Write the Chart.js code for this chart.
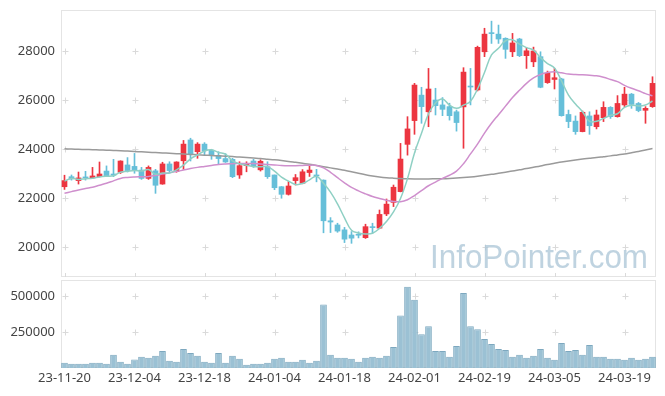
<!DOCTYPE html>
<html>
<head>
<meta charset="utf-8">
<script src="https://cdn.jsdelivr.net/npm/chart.js@4.4.1/dist/chart.umd.min.js"></script>
<style>
  body { margin: 0; background: #fff; }
  #wrap { position: relative; width: 665px; height: 396px; }
  #price { position: absolute; left: 0; top: 0; }
  #vol { position: absolute; left: 0; top: 279px; }
</style>
</head>
<body>
<div id="wrap">
  <canvas id="price" width="665" height="279"></canvas>
  <canvas id="vol" width="665" height="117"></canvas>
</div>
<script>
const dates = [
  '23-11-20','23-11-21','23-11-22','23-11-23','23-11-24','23-11-27','23-11-28','23-11-29','23-11-30','23-12-01',
  '23-12-04','23-12-05','23-12-06','23-12-07','23-12-08','23-12-11','23-12-12','23-12-13','23-12-14','23-12-15',
  '23-12-18','23-12-19','23-12-20','23-12-21','23-12-22','23-12-26','23-12-27','23-12-28','24-01-02','24-01-03',
  '24-01-04','24-01-05','24-01-08','24-01-09','24-01-10','24-01-11','24-01-12','24-01-15','24-01-16','24-01-17',
  '24-01-18','24-01-19','24-01-22','24-01-23','24-01-24','24-01-25','24-01-26','24-01-29','24-01-30','24-01-31',
  '24-02-01','24-02-02','24-02-05','24-02-06','24-02-07','24-02-08','24-02-13','24-02-14','24-02-15','24-02-16',
  '24-02-19','24-02-20','24-02-21','24-02-22','24-02-23','24-02-26','24-02-27','24-02-28','24-02-29','24-03-04',
  '24-03-05','24-03-06','24-03-07','24-03-08','24-03-11','24-03-12','24-03-13','24-03-14','24-03-15','24-03-18',
  '24-03-19','24-03-20','24-03-21','24-03-22','24-03-25'
];

const open = [
  22460,22870,22710,22860,22820,22870,23100,22980,23050,23350,
  23290,23140,22800,23110,22570,23390,23080,23520,24370,23890,
  24200,23950,23740,23610,23580,22940,23320,23510,23150,23280,
  22940,22460,22150,22710,22600,23040,22930,22730,21070,20900,
  20700,20490,20500,20380,20820,20770,21350,21820,22260,24190,
  25160,26200,25520,26000,25800,25730,25520,25720,26560,26410,
  27970,28740,28690,28520,27970,28490,27810,27560,27770,26710,
  26840,26860,25410,25140,24710,25350,24910,25280,25700,25320,
  25800,26240,25860,25580,25730
];
const high = [
  22930,22940,23060,23090,23250,23470,23310,23580,23520,23650,
  23820,23250,23310,23170,23460,23480,23480,24350,24440,24260,
  24260,23990,23890,23810,23620,23480,23480,23580,23560,23480,
  22940,22470,22670,22960,23160,23350,23170,22740,21200,20970,
  20800,20630,20620,20930,20970,21510,21960,22530,24230,25320,
  26680,26520,27290,26480,26100,25870,25590,27320,27290,28200,
  28930,29220,29060,28540,28720,28520,28140,28160,27970,27180,
  27290,26890,25590,25350,25550,25520,25590,25930,25730,26180,
  26520,26270,25900,25730,26950
];
const low = [
  22350,22730,22570,22730,22800,22860,22870,22870,23000,23060,
  23010,22760,22760,22190,22560,23070,23050,23170,23510,23620,
  23750,23580,23380,23450,22830,22800,23070,23250,23100,22800,
  22340,21990,22120,22530,22580,22880,22660,20580,20590,20600,
  20180,20150,20370,20350,20560,20760,21280,21650,22250,23750,
  24600,25050,24910,25390,25360,25180,24730,24030,25800,26370,
  27770,28310,28310,27700,27770,27770,27290,27360,26500,26680,
  26450,25340,24870,24600,24700,24600,24820,25120,25250,25300,
  25730,25660,25520,25050,25700
];
const close = [
  22710,22780,22820,22820,22900,22980,22910,22930,23510,23120,
  23140,22800,23250,22520,23390,23120,23470,24200,23800,24200,
  23930,23740,23610,23470,22870,23320,23410,23310,23500,22870,
  22420,22150,22490,22830,23070,23140,22900,21070,21020,20650,
  20320,20360,20480,20830,20790,21330,21750,22440,23590,24820,
  26610,25730,26450,25770,25620,25360,25080,27140,26530,28150,
  28690,28710,28490,28070,28330,27810,28010,28000,26520,27090,
  26910,25360,25120,24710,25500,24950,25390,25700,25320,25860,
  26240,25820,25570,25660,26680
];

const ma5 = [
  22690,22800,22760,22790,22810,22860,22890,22910,23050,23090,
  23120,23100,23160,22970,23020,23020,23150,23340,23600,23760,
  23920,23970,23860,23790,23520,23400,23340,23280,23280,23280,
  23100,22850,22690,22550,22590,22740,22890,22600,22240,21760,
  21190,20680,20570,20530,20560,20760,21040,21430,21980,22790,
  23840,24640,25440,25880,26040,25790,25660,25790,25950,26450,
  27120,27840,28110,28420,28460,28280,28140,28040,27730,27490,
  27310,26780,26200,25840,25520,25130,25130,25250,25370,25440,
  25700,25790,25760,25800,25960
];
const ma20 = [
  22190,22260,22330,22390,22440,22520,22600,22700,22800,22840,
  22860,22870,22880,22920,22980,23030,23080,23140,23200,23250,
  23290,23330,23370,23390,23400,23410,23410,23410,23390,23370,
  23350,23330,23320,23320,23330,23340,23330,23230,23050,22830,
  22620,22430,22290,22170,22060,21980,21910,21860,21850,21930,
  22100,22300,22500,22650,22800,22930,23100,23400,23800,24200,
  24650,25050,25400,25750,26100,26400,26680,26900,27040,27120,
  27150,27110,27060,27040,27030,27010,26990,26930,26840,26750,
  26600,26480,26380,26260,26170
];
const ma60 = [
  24010,24000,23990,23980,23970,23960,23950,23940,23930,23915,
  23900,23885,23870,23855,23840,23825,23810,23795,23780,23765,
  23750,23735,23720,23705,23690,23670,23650,23630,23610,23585,
  23560,23530,23495,23455,23415,23375,23330,23280,23230,23180,
  23130,23070,23010,22950,22900,22860,22830,22810,22795,22785,
  22780,22780,22780,22785,22790,22800,22815,22835,22860,22890,
  22925,22965,23010,23055,23100,23150,23200,23255,23310,23370,
  23420,23470,23515,23555,23590,23620,23650,23685,23720,23760,
  23800,23850,23900,23960,24020
];

const volume = [
  37000,30000,30000,30000,37000,37000,30000,92000,44000,30000,
  60000,78000,71000,85000,119000,50000,44000,133000,105000,85000,
  44000,37000,105000,37000,85000,64000,23000,30000,30000,37000,
  64000,71000,44000,44000,57000,37000,50000,443000,92000,71000,
  71000,64000,44000,71000,78000,71000,85000,147000,367000,567000,
  477000,236000,291000,119000,119000,78000,154000,525000,291000,271000,
  202000,167000,133000,126000,78000,92000,71000,85000,133000,71000,
  57000,174000,119000,126000,92000,161000,78000,78000,64000,64000,
  57000,71000,57000,64000,78000
];

const priceTicks = [20000, 22000, 24000, 26000, 28000];
const volTicks = [250000, 500000];
const labelIdx = [0, 10, 20, 30, 40, 50, 60, 70, 80];

const UP = '#ec3540';
const DOWN = '#66bfd9';
const candleColor = close.map((c, i) => c >= open[i] ? UP : DOWN);
const tickFont = { family: "'Noto Sans', sans-serif", size: 13 };

// y axis of fixed width, and no extra room reserved for the end labels
function fixY(s) {
  s.width = 61;
  s.paddingTop = 0;
  s.paddingBottom = 0;
}

// light frame plus the little "+" marks where grid lines would cross
const gridMarks = {
  id: 'gridMarks',
  beforeDatasetsDraw(chart, args, opts) {
    const { ctx, chartArea: a, scales: { x, y } } = chart;
    ctx.save();
    ctx.lineWidth = 1;
    ctx.strokeStyle = '#e4e4e4';
    ctx.strokeRect(a.left + 0.5, a.top + 0.5, a.right - a.left - 1, a.bottom - a.top - 1);
    ctx.strokeStyle = '#dadada';
    ctx.beginPath();
    labelIdx.forEach(i => {
      const px = Math.round(x.getPixelForValue(i)) + 0.5;
      opts.values.forEach(v => {
        const py = Math.round(y.getPixelForValue(v)) + 0.5;
        ctx.moveTo(px - 3, py); ctx.lineTo(px + 3, py);
        ctx.moveTo(px, py - 3); ctx.lineTo(px, py + 3);
      });
      if (opts.bottom) {
        ctx.moveTo(px, a.bottom - 4); ctx.lineTo(px, a.bottom);
      }
    });
    ctx.stroke();
    ctx.restore();
  }
};

const watermark = {
  id: 'watermark',
  beforeDatasetsDraw(chart) {
    const { ctx } = chart;
    ctx.save();
    ctx.font = "34px 'Liberation Sans', Arial, sans-serif";
    const txt = 'InfoPointer.com';
    const w = ctx.measureText(txt).width;
    ctx.translate(430, 268);
    ctx.scale(218 / w, 1);
    ctx.fillStyle = 'rgba(170,196,214,0.75)';
    ctx.textBaseline = 'alphabetic';
    ctx.fillText(txt, 0, 0);
    ctx.restore();
  }
};

new Chart(document.getElementById('price'), {
  type: 'bar',
  data: {
    labels: dates,
    datasets: [
      { type: 'line', data: ma5, borderColor: '#8fd0c4', borderWidth: 1.5, pointRadius: 0, tension: 0.4, order: 0 },
      { type: 'line', data: ma20, borderColor: '#cf8fcd', borderWidth: 1.5, pointRadius: 0, tension: 0.4, order: 1 },
      { type: 'line', data: ma60, borderColor: '#9a9a9a', borderWidth: 1.5, pointRadius: 0, tension: 0.4, order: 2 },
      { data: open.map((o, i) => [o, close[i]]), backgroundColor: candleColor, barThickness: 5, minBarLength: 1, grouped: false, order: 3 },
      { data: low.map((l, i) => [l, high[i]]), backgroundColor: candleColor, barThickness: 1, grouped: false, order: 4 }
    ]
  },
  options: {
    responsive: false,
    animation: false,
    layout: { padding: { top: 10, right: 9, bottom: 2, left: 0 } },
    plugins: { legend: { display: false }, tooltip: { enabled: false }, gridMarks: { values: priceTicks, bottom: true } },
    scales: {
      x: { display: false, offset: true },
      y: {
        min: 18775, max: 29675,
        afterFit: fixY,
        afterBuildTicks(s) { s.ticks = priceTicks.map(v => ({ value: v })); },
        grid: { display: false, drawTicks: false },
        border: { display: false },
        ticks: { padding: 6, color: '#444', font: tickFont, callback: v => String(v) }
      }
    }
  },
  plugins: [gridMarks, watermark]
});

new Chart(document.getElementById('vol'), {
  type: 'bar',
  data: {
    labels: dates,
    datasets: [{
      data: volume,
      backgroundColor: '#9bc1d4',
      borderColor: '#7da8bf',
      borderWidth: 1,
      barPercentage: 1,
      categoryPercentage: 0.95
    }]
  },
  options: {
    responsive: false,
    animation: false,
    layout: { padding: { top: 1, right: 9, bottom: 0, left: 0 } },
    plugins: { legend: { display: false }, tooltip: { enabled: false }, gridMarks: { values: volTicks } },
    scales: {
      x: {
        offset: true,
        afterFit(s) { s.height = 28; },
        grid: { display: false, drawTicks: false },
        border: { display: false },
        ticks: {
          autoSkip: false, maxRotation: 0, padding: 2, color: '#444', font: tickFont,
          callback: (v, i) => labelIdx.includes(i) ? dates[i] : ''
        }
      },
      y: {
        min: 0, max: 615000,
        afterFit: fixY,
        afterBuildTicks(s) { s.ticks = volTicks.map(v => ({ value: v })); },
        grid: { display: false, drawTicks: false },
        border: { display: false },
        ticks: { padding: 6, color: '#444', font: tickFont, callback: v => String(v) }
      }
    }
  },
  plugins: [gridMarks]
});
</script>
</body>
</html>
